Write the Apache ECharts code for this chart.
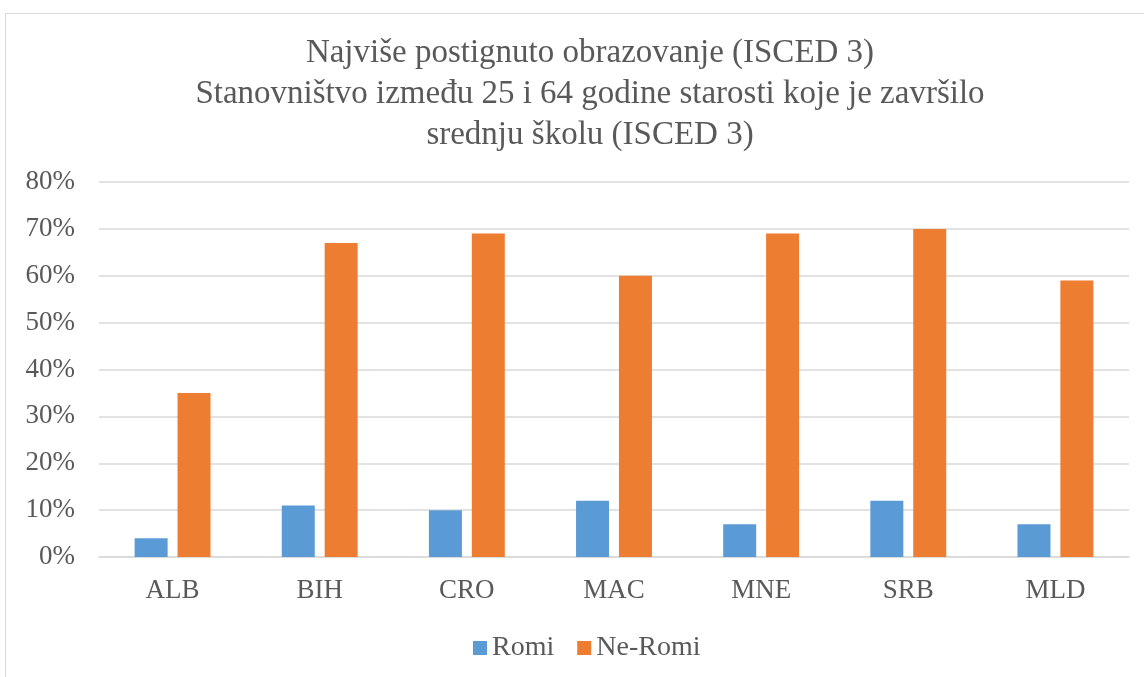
<!DOCTYPE html>
<html>
<head>
<meta charset="utf-8">
<script src="https://cdn.jsdelivr.net/npm/echarts@6/dist/echarts.min.js"></script>
<style>
  html, body { margin: 0; padding: 0; background: #fff; }
  #chart { width: 1144px; height: 677px; }
</style>
</head>
<body>
<div id="chart"></div>
<script>
var countries = ['ALB', 'BIH', 'CRO', 'MAC', 'MNE', 'SRB', 'MLD'];
var romi = [4, 11, 10, 12, 7, 12, 7];
var neRomi = [35, 67, 69, 60, 69, 70, 59];
var yTicks = [0, 10, 20, 30, 40, 50, 60, 70, 80];

var serif = "'Liberation Serif', 'Times New Roman', serif";
var textColor = '#595959';

var option = {
  backgroundColor: '#fff',
  animation: false,
  graphic: [
    {
      type: 'rect',
      shape: { x: 5.5, y: 13.5, width: 1200, height: 700 },
      style: { fill: 'none', stroke: '#d9d9d9', lineWidth: 1 },
      z: -1
    }
  ],
  title: {
    text: 'Najviše postignuto obrazovanje (ISCED 3)\nStanovništvo između 25 i 64 godine starosti koje je završilo\nsrednju školu (ISCED 3)',
    left: 585,
    top: 28,
    textAlign: 'center',
    textStyle: {
      fontFamily: serif,
      fontSize: 33,
      fontWeight: 'normal',
      color: textColor,
      lineHeight: 41
    }
  },
  legend: {
    data: ['Romi', 'Ne-Romi'],
    top: 629,
    left: 468,
    itemWidth: 14,
    itemHeight: 14,
    itemGap: 23,
    icon: 'rect',
    textStyle: { fontFamily: serif, fontSize: 28, color: textColor }
  },
  grid: {
    left: 99,
    right: 15,
    top: 182,
    bottom: 120
  },
  xAxis: {
    type: 'category',
    data: countries,
    axisTick: { show: false },
    axisLine: { lineStyle: { color: '#d9d9d9', width: 1.5 } },
    axisLabel: { fontFamily: serif, fontSize: 27, color: textColor, margin: 20 }
  },
  yAxis: {
    type: 'value',
    min: yTicks[0],
    max: yTicks[yTicks.length - 1],
    interval: 10,
    axisLine: { show: false },
    axisTick: { show: false },
    splitLine: { lineStyle: { color: '#d9d9d9', width: 1.5 } },
    axisLabel: {
      fontFamily: serif,
      fontSize: 27,
      color: textColor,
      margin: 24,
      formatter: '{value}%'
    }
  },
  series: [
    {
      name: 'Romi',
      type: 'bar',
      data: romi,
      barWidth: 33,
      barGap: '30%',
      itemStyle: { color: '#5b9bd5' }
    },
    {
      name: 'Ne-Romi',
      type: 'bar',
      data: neRomi,
      barWidth: 33,
      itemStyle: { color: '#ed7d31' }
    }
  ]
};

var myChart = echarts.init(document.getElementById('chart'));
myChart.setOption(option);
</script>
</body>
</html>
